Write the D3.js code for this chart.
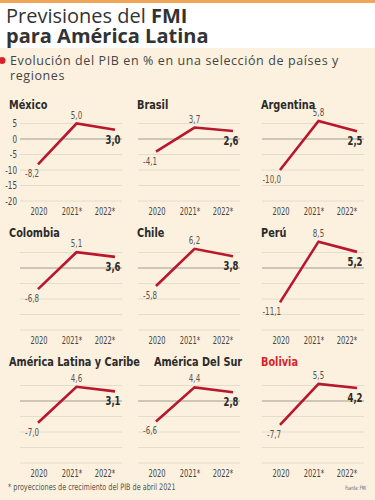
<!DOCTYPE html>
<html>
<head>
<meta charset="utf-8">
<script src="https://cdn.jsdelivr.net/npm/d3@7"></script>
<style>
body{margin:0;background:#fff}
svg{display:block}
</style>
</head>
<body>
<div id="chart"></div>
<script>
var width = 375
var height = 500

// datos FMI
const years = ["2020","2021*","2022*"]
const countries = ["México","Brasil","Argentina","Colombia","Chile","Perú","América Latina y Caribe","América Del Sur","Bolivia"]
const v2020 = [-8.2,-4.1,-10.0,-6.8,-5.8,-11.1,-7.0,-6.6,-7.7]
const v2021 = [5.0,3.7,5.8,5.1,6.2,8.5,4.6,4.4,5.5]
const v2022 = [3.0,2.6,2.5,3.6,3.8,5.2,3.1,2.8,4.2]
const yTicks = [5,0,-5,-10,-15,-20]

var colX = [20,138,262]
var rowZero = [139,268,401]
var rowTitle = [109,237,366]
var gridW = 102
var red = "#b8172d"
var cond = "'DejaVu Sans',sans-serif"

var loc = d3.formatLocale({decimal:",",thousands:".",grouping:[3],currency:["",""],minus:"-"})
var fmt = loc.format(".1f")

// texto estrecho: la fuente original es condensada
function narrow(sel,x,y,s){
  return sel.attr("transform","translate("+x+","+y+") scale("+s+",1)")
}

var svg = d3.select("#chart").append("svg")
.attr("width",width)
.attr("height",height)

// cabecera
svg.append("rect").attr("x",0).attr("y",0).attr("width",width).attr("height",3).style("fill","#f2a65a")
svg.append("rect").attr("x",0).attr("y",48).attr("width",width).attr("height",height-48).style("fill","#fcf1de")

var t1 = svg.append("text").attr("x",6).attr("y",23)
.style("font-family","'Open Sans',sans-serif").style("font-size","20px").style("fill","#333")
t1.append("tspan").text("Previsiones del ")
t1.append("tspan").text("FMI").style("font-weight","bold")
svg.append("text").attr("x",6).attr("y",43)
.style("font-family","'Open Sans',sans-serif").style("font-size","20px").style("font-weight","bold").style("fill","#333")
.text("para América Latina")

svg.append("circle").attr("cx",2).attr("cy",60.5).attr("r",3.5).style("fill","#d8232a")
var sub = svg.append("text").style("font-family","'Open Sans',sans-serif").style("font-size","12.5px")
.style("letter-spacing","0.6px").style("fill","#444")
sub.append("tspan").attr("x",10).attr("y",65).text("Evolución del PIB en % en una selección de países y")
sub.append("tspan").attr("x",10).attr("y",80).text("regiones")

var lastEnd = [0,0,0]

countries.forEach(function(name,i){
  var col = i%3, row = Math.floor(i/3)
  var x0 = colX[col], zero = rowZero[row]
  var g = svg.append("g")

  var y = d3.scaleLinear().domain([-20,5]).range([zero+62,zero-15.5])
  var x = d3.scalePoint().domain(years).range([x0+18,x0+95])
  var xl = d3.scalePoint().domain(years).range([x0+19,x0+85])

  g.selectAll("line.grid")
  .data(yTicks)
  .enter()
  .append("line")
  .attr("x1",x0).attr("x2",x0+gridW)
  .attr("y1",d=>y(d)).attr("y2",d=>y(d))
  .style("stroke",d=>d==0?"#a09a92":"#e6dccb")
  .style("stroke-width",1)

  if(i==0){
    g.selectAll("text.tick")
    .data(yTicks)
    .enter()
    .append("text")
    .attr("transform",d=>"translate("+(x0-3)+","+(y(d)+3.5)+") scale(0.72,1)")
    .attr("text-anchor","end")
    .style("font-family",cond).style("font-size","10px").style("fill","#444")
    .text(d=>d)
  }

  g.selectAll("text.year")
  .data(years)
  .enter()
  .append("text")
  .attr("transform",d=>"translate("+xl(d)+","+(zero+76)+") scale(0.64,1)")
  .attr("text-anchor","middle")
  .style("font-family",cond).style("font-size","10.5px").style("fill","#444")
  .text(d=>d)

  var vals = [v2020[i],v2021[i],v2022[i]]
  var line = d3.line().x((d,k)=>x(years[k])).y(d=>y(d))
  g.append("path")
  .attr("d",line(vals))
  .style("fill","none").style("stroke",red).style("stroke-width",2.6)
  .style("stroke-linejoin","miter")

  narrow(g.append("text"),x(years[0])+1,y(vals[0])+13,0.68)
  .attr("text-anchor","end")
  .style("font-family",cond).style("font-size","10.5px").style("fill","#555")
  .text(fmt(vals[0]))
  narrow(g.append("text"),x(years[1]),y(vals[1])-5,0.68)
  .attr("text-anchor","middle")
  .style("font-family",cond).style("font-size","10.5px").style("fill","#555")
  .text(fmt(vals[1]))
  narrow(g.append("text"),x(years[2])-2,y(vals[2])+14,0.68)
  .attr("text-anchor","middle")
  .style("font-family",cond).style("font-size","12.5px").style("font-weight","bold").style("fill","#2a2a2a")
  .text(fmt(vals[2]))

  var tx = col==0 ? 9 : Math.max(x0-1, lastEnd[row]+14)
  var tt = narrow(g.append("text"),tx,rowTitle[row],0.78)
  .style("font-family",cond).style("font-size","12.5px").style("font-weight","bold")
  .style("fill",name=="Bolivia"?"#d8232a":"#2b2b2b")
  .text(name)
  lastEnd[row] = tx + tt.node().getComputedTextLength()*0.78
})

narrow(svg.append("text"),8,490,0.72)
.style("font-family",cond).style("font-size","9px").style("fill","#555")
.text("* proyecciones de crecimiento del PIB de abril 2021")
narrow(svg.append("text"),366,490,0.6).attr("text-anchor","end")
.style("font-family",cond).style("font-size","6px").style("fill","#666")
.text("Fuente: FMI")
</script>
</body>
</html>
